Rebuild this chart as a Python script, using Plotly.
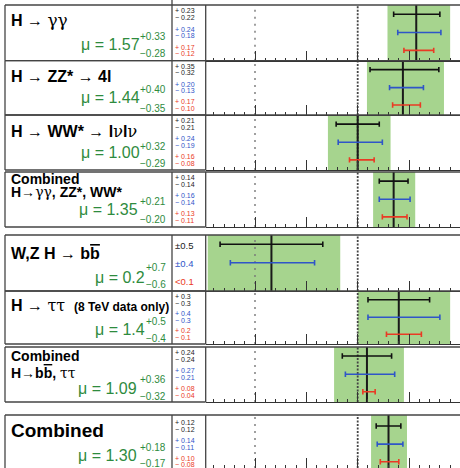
import plotly.graph_objects as go

# ---------------- data ----------------
channels = ["H → γγ", "H → ZZ* → 4l", "H → WW* → lνlν", "Combined H→γγ, ZZ*, WW*",
            "W,Z H → bb", "H → ττ (8 TeV data only)", "Combined H→bb, ττ", "Combined"]
mu = [1.57, 1.44, 1.00, 1.35, 0.16, 1.40, 1.09, 1.30]
mu_text = ["1.57", "1.44", "1.00", "1.35", "0.2", "1.4", "1.09", "1.30"]
tot_up = [0.33, 0.40, 0.32, 0.21, 0.67, 0.50, 0.36, 0.18]
tot_dn = [0.28, 0.35, 0.29, 0.20, 0.62, 0.40, 0.32, 0.17]
tot_up_text = ["+0.33", "+0.40", "+0.32", "+0.21", "+0.7", "+0.5", "+0.36", "+0.18"]
tot_dn_text = ["−0.28", "−0.35", "−0.29", "−0.20", "−0.6", "−0.4", "−0.32", "−0.17"]
stat_up = [0.23, 0.35, 0.21, 0.14, 0.50, 0.30, 0.24, 0.12]
stat_dn = [0.22, 0.32, 0.21, 0.14, 0.50, 0.30, 0.24, 0.12]
sys_up = [0.24, 0.20, 0.24, 0.16, 0.42, 0.40, 0.27, 0.14]
sys_dn = [0.18, 0.13, 0.19, 0.14, 0.40, 0.30, 0.21, 0.11]
th_up = [0.17, 0.17, 0.16, 0.13, None, 0.22, 0.08, 0.10]
th_dn = [0.12, 0.10, 0.08, 0.11, None, 0.12, 0.04, 0.08]
stat_txt = [["+ 0.23", "− 0.22"], ["+ 0.35", "− 0.32"], ["+ 0.21", "− 0.21"], ["+ 0.14", "− 0.14"],
            ["±0.5"], ["+ 0.3", "− 0.3"], ["+ 0.24", "− 0.24"], ["+ 0.12", "− 0.12"]]
sys_txt = [["+ 0.24", "− 0.18"], ["+ 0.20", "− 0.13"], ["+ 0.24", "− 0.19"], ["+ 0.16", "− 0.14"],
           ["±0.4"], ["+ 0.4", "− 0.3"], ["+ 0.27", "− 0.21"], ["+ 0.14", "− 0.11"]]
th_txt = [["+ 0.17", "− 0.12"], ["+ 0.17", "− 0.10"], ["+ 0.16", "− 0.08"], ["+ 0.13", "− 0.11"],
          ["<0.1"], ["+ 0.2", "− 0.1"], ["+ 0.08", "− 0.04"], ["+ 0.10", "− 0.08"]]

# ---------------- layout / style ----------------
W, H = 460, 468
def px(x): return x / W
def py(y): return 1 - y / H

FONT = "Liberation Sans, Arial, sans-serif"
SERIF = "'DejaVu Serif'"
GREEN_BAND = "#a6d48e"
GREEN_TXT = "#2e8b3e"
BLUE = "#2f55c8"
RED = "#ea3a24"
BLACK = "#111111"
LINE = "#444444"

row_top = [5, 60.7, 115, 172, 235, 291, 347, 415]
row_bot = [60.7, 115, 170, 227, 291, 344, 402, 468]
y_ranges = [[0, 1]] * 7 + [[0.07, 1.035]]
X0, X1 = -0.48, 1.996
PLOT_L = 205.7
NUM_L = 172
BOX_L = 5

def gr(s, size=None):
    st = "font-family:%s;font-weight:normal" % SERIF
    if size:
        st += ";font-size:%dpx" % size
    return "<span style=\"%s\">%s</span>" % (st, s)

OVB = "<span style=\"text-decoration:overline\">b</span>"
titles = [
    [("<b>H → </b>" + gr("γγ", 17), 16, 20.5)],
    [("<b>H → ZZ* → 4l</b>", 16, 76.5)],
    [("<b>H → WW* → l</b>" + gr("ν", 16) + "<b>l</b>" + gr("ν", 16), 16, 131.7)],
    [("<b>Combined</b>", 14, 179.3), ("<b>H→</b>" + gr("γγ", 14) + "<b>, ZZ*, WW*</b>", 14, 191.7)],
    [("<b>W,Z H → b" + OVB + "</b>", 16, 253.3)],
    [("<b>H → </b>" + gr("ττ", 16) + "<b>  <span style=\"font-size:12px\">(8 TeV data only)</span></b>", 16, 305)],
    [("<b>Combined</b>", 14, 356), ("<b>H→b" + OVB + ", </b>" + gr("ττ", 14), 14, 373.3)],
    [("<b>Combined</b>", 19, 430.7)],
]
mu_y = [44, 97, 153, 210, 277, 329, 388, 455]
sup_y = [36.5, 90, 146.5, 201.7, 267, 321, 379.3, 447.3]
sub_y = [53.5, 108, 163, 219, 284.5, 338.3, 396, 463.3]
mu_xr = [141.7, 141.7, 141.7, 140, 146.7, 146.7, 139.3, 139.3]

bar_frac = [0.835, 0.505, 0.185]

fig = go.Figure()
axes = {}
shapes = []
ann = []

def row_px(i, yy):
    lo, hi = y_ranges[i]
    return row_top[i] + (hi - yy) / (hi - lo) * (row_bot[i] - row_top[i])

for i in range(8):
    n = i + 1
    xa = "xaxis" if n == 1 else "xaxis%d" % n
    ya = "yaxis" if n == 1 else "yaxis%d" % n
    xr = "x" if n == 1 else "x%d" % n
    yr = "y" if n == 1 else "y%d" % n
    axes[xa] = dict(domain=[px(PLOT_L), 1], range=[X0, X1], anchor=yr,
                    showline=(i < 7), linecolor="#333", linewidth=1.2,
                    ticks="inside", ticklen=10, tickwidth=1, tickcolor="#333",
                    tick0=0, dtick=0.5, showticklabels=False, showgrid=False, zeroline=False,
                    minor=dict(ticks="inside", ticklen=3, tickwidth=1, tickcolor="#333",
                               dtick=0.1, tick0=0, showgrid=False),
                    fixedrange=True)
    axes[ya] = dict(domain=[py(row_bot[i]), py(row_top[i])], range=y_ranges[i], anchor=xr,
                    visible=False, fixedrange=True)

    # total uncertainty band
    shapes.append(dict(type="rect", xref=xr, yref=yr + " domain", x0=mu[i] - tot_dn[i],
                       x1=mu[i] + tot_up[i], y0=0, y1=1, fillcolor=GREEN_BAND,
                       line=dict(width=0), layer="below"))
    # reference lines at mu=0 and mu=1
    shapes.append(dict(type="line", xref=xr, yref=yr + " domain", x0=0, x1=0, y0=0, y1=1,
                       line=dict(color="#777", width=1.4, dash="2px,5px"), layer="below"))
    shapes.append(dict(type="line", xref=xr, yref=yr + " domain", x0=1, x1=1, y0=0, y1=1,
                       line=dict(color="#444", width=1.8, dash="2px,1.5px"), layer="below"))
    # central value
    shapes.append(dict(type="line", xref=xr, yref=yr + " domain", x0=mu[i], x1=mu[i], y0=0, y1=1,
                       line=dict(color="#1a1a1a", width=2), layer="below"))

    # error bars
    for (up, dn, col, fr) in [(stat_up, stat_dn, BLACK, bar_frac[0]),
                              (sys_up, sys_dn, BLUE, bar_frac[1]),
                              (th_up, th_dn, RED, bar_frac[2])]:
        if up[i] is None:
            continue
        fig.add_trace(go.Scatter(x=[mu[i]], y=[fr], xaxis=xr, yaxis=yr, mode="markers",
                                 marker=dict(size=1, color=col, opacity=0),
                                 error_x=dict(type="data", symmetric=False, array=[up[i]],
                                              arrayminus=[dn[i]], color=col, thickness=1.6,
                                              width=2.7),
                                 showlegend=False, hoverinfo="skip"))

    # box lines
    top, bot = row_top[i], row_bot[i]
    shapes.append(dict(type="line", xref="paper", yref="paper", x0=px(BOX_L), x1=1.02,
                       y0=py(top), y1=py(top), line=dict(color=LINE, width=1.3)))
    if i < 7:
        shapes.append(dict(type="line", xref="paper", yref="paper", x0=px(BOX_L), x1=px(PLOT_L),
                           y0=py(bot), y1=py(bot), line=dict(color=LINE, width=1.3)))
    for xv in (BOX_L, NUM_L, PLOT_L):
        shapes.append(dict(type="line", xref="paper", yref="paper", x0=px(xv), x1=px(xv),
                           y0=py(top), y1=py(bot), line=dict(color=LINE, width=1.3)))

    # titles
    for (txt, size, yy) in titles[i]:
        ann.append(dict(text=txt, x=px(9), y=py(yy), xref="paper", yref="paper",
                        xanchor="left", yanchor="middle", showarrow=False,
                        font=dict(family=FONT, size=size, color="black")))
    # mu values
    ann.append(dict(text="μ = " + mu_text[i], x=px(mu_xr[i]), y=py(mu_y[i]), xref="paper",
                    yref="paper", xanchor="right", yanchor="middle", showarrow=False,
                    font=dict(family=FONT, size=16, color=GREEN_TXT)))
    ann.append(dict(text=tot_up_text[i], x=px(168), y=py(sup_y[i]), xref="paper", yref="paper",
                    xanchor="right", yanchor="middle", showarrow=False,
                    font=dict(family=FONT, size=10, color=GREEN_TXT)))
    ann.append(dict(text=tot_dn_text[i], x=px(168), y=py(sub_y[i]), xref="paper", yref="paper",
                    xanchor="right", yanchor="middle", showarrow=False,
                    font=dict(family=FONT, size=10, color=GREEN_TXT)))

    # uncertainty numbers
    for (txts, col, fr) in [(stat_txt, "#222", bar_frac[0]), (sys_txt, BLUE, bar_frac[1]),
                            (th_txt, RED, bar_frac[2])]:
        yc = row_px(i, fr)
        t = txts[i]
        if len(t) == 1:
            ann.append(dict(text=t[0], x=px(172.5), y=py(yc + 1), xref="paper", yref="paper",
                            xanchor="left", yanchor="middle", showarrow=False,
                            font=dict(family=FONT, size=9.5, color=col)))
        else:
            for (s, dy) in zip(t, (-3.3, 3.3)):
                ann.append(dict(text=s, x=px(172.5), y=py(yc + dy), xref="paper", yref="paper",
                                xanchor="left", yanchor="middle", showarrow=False,
                                font=dict(family=FONT, size=7, color=col)))

# little line above first row and partly hidden header text
shapes.append(dict(type="line", xref="paper", yref="paper", x0=px(NUM_L), x1=px(NUM_L),
                   y0=py(0), y1=py(5), line=dict(color=LINE, width=1.3)))
ann.append(dict(text="(theory)", x=px(200), y=py(1.5), xref="paper", yref="paper",
                xanchor="left", yanchor="bottom", showarrow=False,
                font=dict(family=FONT, size=18, color=RED)))

fig.update_layout(width=W, height=H, margin=dict(l=0, r=0, t=0, b=0),
                  paper_bgcolor="white", plot_bgcolor="rgba(0,0,0,0)",
                  showlegend=False, shapes=shapes, annotations=ann, **axes)
fig.write_html("out.html", config={"displayModeBar": False},
               post_script="document.body.style.margin='0';document.body.style.padding='0';"
                           "document.body.style.overflow='hidden';")
